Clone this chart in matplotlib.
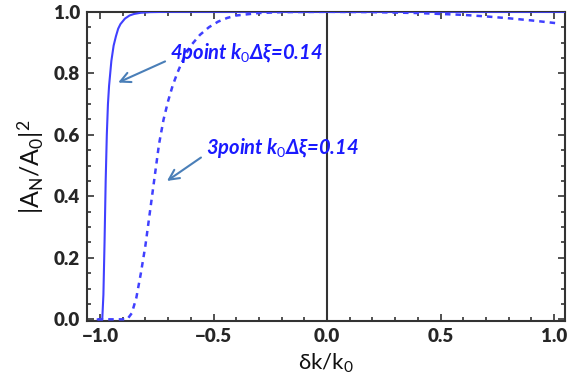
import matplotlib
matplotlib.use('Agg')
import matplotlib.pyplot as plt
from matplotlib.ticker import MultipleLocator

plt.rcParams['font.family'] = ['Lato', 'DejaVu Sans']
plt.rcParams['mathtext.fontset'] = 'custom'
plt.rcParams['mathtext.rm'] = 'Lato'
plt.rcParams['mathtext.it'] = 'Lato:italic:bold'
plt.rcParams['mathtext.bf'] = 'Lato:bold'

# 4 point scheme (solid)
x4 = [-1.01, -0.99, -0.985, -0.98, -0.975, -0.97, -0.965, -0.96, -0.955, -0.95,
      -0.94, -0.93, -0.92, -0.91, -0.89, -0.87, -0.85, -0.82, -0.78, -0.7,
      -0.5, 0.0, 0.5, 1.05]
y4 = [0.0, 0.0, 0.08, 0.25, 0.45, 0.6, 0.7, 0.76, 0.8, 0.84,
      0.89, 0.92, 0.945, 0.96, 0.978, 0.988, 0.993, 0.997, 0.999, 1.0,
      1.0, 1.0, 1.0, 1.0]

# 3 point scheme (dashed)
x3 = [-1.01, -0.88, -0.86, -0.84, -0.82, -0.80, -0.78, -0.76, -0.74, -0.72,
      -0.70, -0.68, -0.66, -0.64, -0.62, -0.60, -0.56, -0.52, -0.48, -0.44,
      -0.40, -0.3, -0.2, 0.0, 0.2, 0.4, 0.5, 0.6, 0.7, 0.8, 0.9, 1.01]
y3 = [0.0, 0.0, 0.02, 0.07, 0.15, 0.24, 0.35, 0.46, 0.57, 0.65,
      0.71, 0.76, 0.80, 0.835, 0.865, 0.89, 0.925, 0.95, 0.968, 0.98,
      0.988, 0.996, 0.999, 1.0, 0.999, 0.996, 0.993, 0.99, 0.985, 0.979, 0.972, 0.963]

xticks = [-1.0, -0.5, 0.0, 0.5, 1.0]
yticks = [0.0, 0.2, 0.4, 0.6, 0.8, 1.0]

fig = plt.figure(figsize=(5.69, 3.81), dpi=100)
ax = fig.add_axes([0.153, 0.157, 0.840, 0.812])

line_col = '#4040ff'
ax.plot(x4, y4, color=line_col, lw=1.5, zorder=3)
ax.plot(x3, y3, color=line_col, lw=1.8, dashes=(2.2, 2.0), zorder=3)
ax.axvline(0, color='#333333', lw=1.5, zorder=2)

ax.set_xlim(-1.057, 1.048)
ax.set_ylim(-0.006, 1.0)
ax.set_xticks(xticks)
ax.set_yticks(yticks)
ax.set_xticklabels(['\u22121.0', '\u22120.5', '0.0', '0.5', '1.0'])
ax.set_yticklabels(['%.1f' % v for v in yticks])
ax.xaxis.set_minor_locator(MultipleLocator(0.1))
ax.yaxis.set_minor_locator(MultipleLocator(0.05))
ax.tick_params(which='both', direction='in', top=True, right=True, color='#333333', width=1.2)
ax.tick_params(which='major', length=5, labelsize=13.5, labelcolor='#262626', pad=5)
ax.tick_params(which='minor', length=3)
for lab in ax.get_xticklabels() + ax.get_yticklabels():
    lab.set_fontweight('heavy')
for sp in ax.spines.values():
    sp.set_color('#333333')
    sp.set_linewidth(1.5)

ax.set_xlabel(r'$\mathregular{\delta k/k_0}$', fontsize=16, color='#111111', labelpad=5)
ax.set_ylabel(r'$\mathregular{|A_N/A_0|^2}$', fontsize=18, color='#111111', labelpad=6)

arrow = dict(arrowstyle='->', color='#4a7fb8', lw=1.5, mutation_scale=18,
             shrinkA=2, shrinkB=0, relpos=(0.0, 0.25))
txt = dict(color='#1a1aff', fontsize=14.5, fontweight='bold', fontstyle='italic')
ax.annotate('4point k$_{0}$\u0394\u03be=0.14', xy=(-0.92, 0.77), xytext=(-0.69, 0.866),
            textcoords='data', va='center', ha='left', arrowprops=arrow, **txt)
ax.annotate('3point k$_{0}$\u0394\u03be=0.14', xy=(-0.705, 0.45), xytext=(-0.533, 0.557),
            textcoords='data', va='center', ha='left', arrowprops=arrow, **txt)

fig.savefig('out.png', dpi=100)
